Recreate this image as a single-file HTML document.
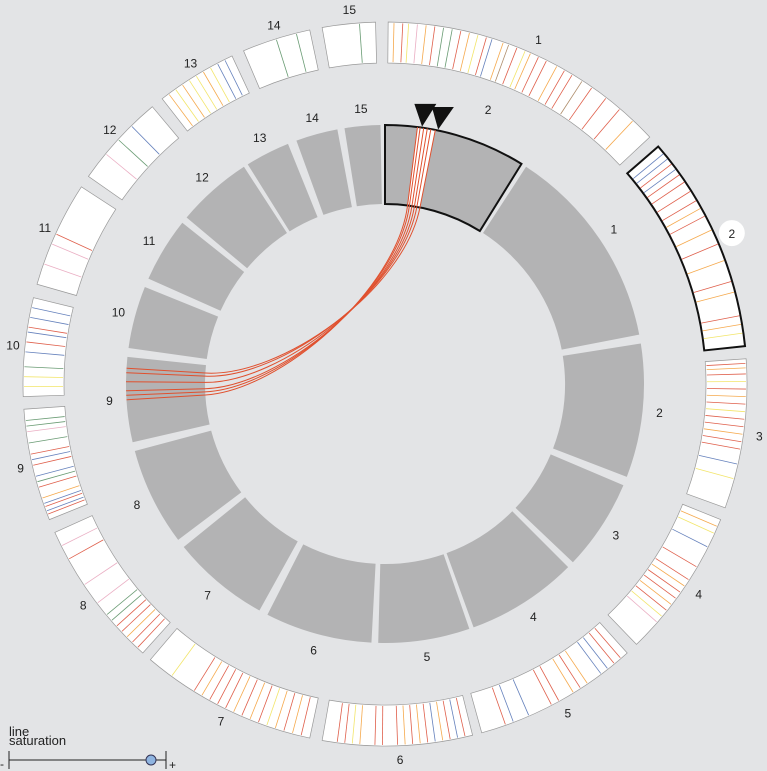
<!DOCTYPE html>
<html><head><meta charset="utf-8">
<style>
html,body{margin:0;padding:0;background:#e3e4e6;}
svg{display:block;font-family:"Liberation Sans",sans-serif;}
</style></head>
<body>
<svg id="chart" width="767" height="771" viewBox="0 0 767 771">
<rect width="767" height="771" fill="#e3e4e6"/>
<g id="outer"></g><g id="inner"></g><g id="links"></g><g id="labels"></g>
<g>
<text x="9" y="736" font-size="13" fill="#222">line</text>
<text x="9" y="745" font-size="13" fill="#222">saturation</text>
<line x1="9" y1="760" x2="166" y2="760" stroke="#222" stroke-width="1"/>
<line x1="9" y1="751" x2="9" y2="769" stroke="#222"/>
<line x1="166" y1="751" x2="166" y2="769" stroke="#222"/>
<text x="0" y="768" font-size="12" fill="#222">-</text>
<text x="169" y="769" font-size="12" fill="#222">+</text>
<circle cx="151" cy="760" r="5" fill="#8fb4e0" stroke="#335" stroke-width="1"/>
</g>
</svg>
<script>
const CX=385, CY=384;
const outerNames=["1","2","3","4","5","6","7","8","9","10","11","12","13","14","15"];
const outerStart=[0.5,49,86,112,138,166,192,222,248,268,286,305,322,337,350];
const outerEnd=[47,84,110,136,164.5,190,220.4,245.8,266,283.8,303,320,335,348,358.5];
const outerTicks=[
"0.02o 0.05r 0.07y 0.1p 0.13o 0.16r 0.19g 0.22g 0.25r 0.28o 0.31y 0.34r 0.36b 0.4o 0.42n 0.45r 0.48y 0.5o 0.53r 0.56r 0.6o 0.63r 0.66r 0.7n 0.74r 0.8r 0.86r 0.92o",
"0.04b 0.07b 0.1r 0.13b 0.16r 0.2r 0.25r 0.3r 0.34o 0.38r 0.45o 0.52r 0.6o 0.7r 0.75o 0.86r 0.9o 0.94y",
"0.03r 0.06o 0.1r 0.15y 0.2r 0.25o 0.3r 0.35y 0.4r 0.45r 0.5o 0.55r 0.6r 0.7b 0.8y",
"0.05o 0.1y 0.2b 0.35r 0.45r 0.5o 0.55r 0.6r 0.65o 0.7r 0.75y 0.8p",
"0.05r 0.1r 0.15b 0.2b 0.3o 0.35r 0.4o 0.5r 0.55r 0.7b 0.8b 0.85r",
"0.05r 0.1b 0.15r 0.2o 0.25b 0.3r 0.35o 0.4r 0.45o 0.5r 0.6r 0.65r 0.75o 0.8y 0.85r 0.9r",
"0.05r 0.1o 0.15r 0.2o 0.25y 0.3r 0.35o 0.4r 0.45o 0.5r 0.55r 0.6r 0.65o 0.7r 0.85y",
"0.05r 0.1r 0.15o 0.2r 0.25r 0.3g 0.35g 0.45p 0.6p 0.8r 0.9p",
"0.05r 0.08b 0.12r 0.15b 0.2o 0.3r 0.35g 0.4b 0.5r 0.55b 0.6r 0.7g 0.8p 0.85g 0.9g",
"0.1y 0.2y 0.3g 0.45b 0.55r 0.65b 0.7r 0.8b 0.9b",
"0.2p 0.4p 0.5r",
"0.3p 0.5g 0.7b",
"0.1o 0.2y 0.3o 0.4y 0.5y 0.6o 0.7y 0.8b 0.9b",
"0.5g 0.8g",
"0.7g"];
const tickColors={r:"#d9432b",o:"#f39a2e",y:"#f0e050",b:"#4a6bb0",g:"#4f8a5a",p:"#e6a0b8",n:"#a07850"};
const innerNames=["2","1","2","3","4","5","6","7","8","9","10","11","12","13","14","15"];
const innerStart=[0,33,81,113,135,161,183,209,233,257,278,294,310,328,340,351];
const innerEnd=[31.8,79,111,133.5,160,181.5,207,231,255,276,292,308.5,327,338,349.4,359];
const linkSrc=[7.2,7.8,8.6,9.4,10.2,11.2];
const linkTgt=[266.5,267.5,268.5,270.5,272.5,273.5];
const arrowAngles=[8.2,11.8];

const NS="http://www.w3.org/2000/svg";
function pt(a,r){const t=(a-90)*Math.PI/180;return [CX+r*Math.cos(t),CY+r*Math.sin(t)];}
function sector(a0,a1,r0,r1){const p1=pt(a0,r1),p2=pt(a1,r1),p3=pt(a1,r0),p4=pt(a0,r0);const l=(a1-a0)>180?1:0;
return `M${p1}A${r1},${r1} 0 ${l} 1 ${p2}L${p3}A${r0},${r0} 0 ${l} 0 ${p4}Z`;}
function mk(tag,attrs,parent){const e=document.createElementNS(NS,tag);for(const k in attrs)e.setAttribute(k,attrs[k]);parent.appendChild(e);return e;}
const gO=document.getElementById('outer'),gI=document.getElementById('inner'),gL=document.getElementById('links'),gT=document.getElementById('labels');
const OR0=321,OR1=362,IR0=180,IR1=259;
outerNames.forEach((n,i)=>{
 const hl=i===1;
 const s=mk('path',{d:sector(outerStart[i],outerEnd[i],OR0,OR1),fill:'#fff',stroke:hl?'#111':'#999','stroke-width':hl?2:0.7},gO);
 
 
 outerTicks[i].split(' ').forEach(tk=>{
  const f=parseFloat(tk),c=tickColors[tk.slice(-1)];
  const a=outerStart[i]+f*(outerEnd[i]-outerStart[i]);
  const p=pt(a,OR0+1),q=pt(a,OR1-1);
  const l=mk('line',{x1:p[0],y1:p[1],x2:q[0],y2:q[1],stroke:c,'stroke-width':0.8,'stroke-opacity':0.85},gO);
  
  
 });
 const la=(outerStart[i]+outerEnd[i])/2,lp=pt(la,376);
 if(hl){const c=mk('circle',{cx:lp[0]+2,cy:lp[1]-1,r:13,fill:'#fff'},gT);
  
  }
 const t=mk('text',{x:lp[0]+2,y:lp[1]+4,'font-size':12,'text-anchor':'middle',fill:'#222'},gT);
 t.textContent=n;
 
 
});
innerNames.forEach((n,i)=>{
 const hl=i===0;
 const s=mk('path',{d:sector(innerStart[i],innerEnd[i],IR0,IR1),fill:'#b3b3b4',stroke:hl?'#111':'none','stroke-width':2},gI);
 
 
 const la=(innerStart[i]+innerEnd[i])/2,lp=pt(la,hl?285:276);
 const t=mk('text',{x:lp[0]+(hl?25:0),y:lp[1]+4,'font-size':12,'text-anchor':'middle',fill:'#222'},gT);
 t.textContent=n;
 
 
});
const band=mk('path',{d:sector(Math.min(...linkSrc),Math.max(...linkSrc),IR0+1,IR1-1),fill:'#fff'},gL);


linkSrc.forEach((a,i)=>{
 const b=linkTgt[i];
 const s1=pt(a,IR1),s0=pt(a,IR0),t0=pt(b,IR0),t1=pt(b,IR1);
 const c1=pt(a,95),c2=pt(b,105);
 const p=mk('path',{d:`M${s1}L${s0}C${c1} ${c2} ${t0}L${t1}`,fill:'none',stroke:'#e0502e','stroke-width':1},gL);
 
 
});
arrowAngles.forEach(a=>{
 const tip=pt(a,IR1+1),base=pt(a,IR1+24);
 const tri=mk('path',{d:`M${tip}L${base[0]-11},${base[1]}L${base[0]+11},${base[1]}Z`,fill:'#111'},gL);
 
 
});
</script>
</body></html>
